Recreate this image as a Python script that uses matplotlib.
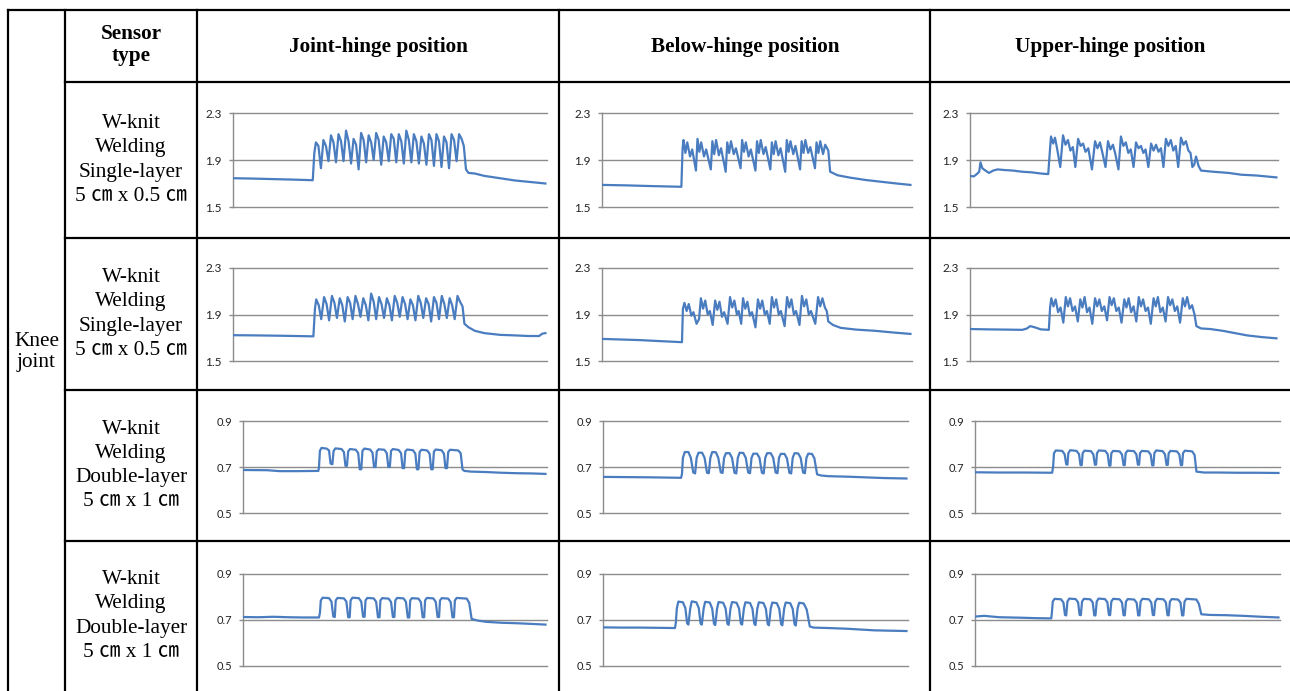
import numpy as np
import matplotlib
matplotlib.use("Agg")
import matplotlib.pyplot as plt

# ---------------- data ----------------
positions = ["Joint-hinge position", "Below-hinge position", "Upper-hinge position"]
header_label = "Sensor\ntype"
joint_label = "Knee\njoint"
sensor_labels = [
    "W-knit\nWelding\nSingle-layer\n5 ㎝ x 0.5 ㎝",
    "W-knit\nWelding\nSingle-layer\n5 ㎝ x 0.5 ㎝",
    "W-knit\nWelding\nDouble-layer\n5 ㎝ x 1 ㎝",
    "W-knit\nWelding\nDouble-layer\n5 ㎝ x 1 ㎝",
]
single_ticks = [1.5, 1.9, 2.3]
double_ticks = [0.5, 0.7, 0.9]

# traces: (time, value), time in % of the record
joint_single_1 = [
    (0.0, 1.745), (6, 1.742), (12, 1.738), (18, 1.734), (25.4, 1.728), (25.9, 1.96),
    (26.4, 2.05), (27.2, 2.02), (28.0, 1.83), (28.8, 2.07), (29.6, 2.02), (30.4, 1.89),
    (31.2, 2.11), (32.0, 2.05), (32.8, 1.88), (33.6, 2.12), (34.4, 2.06), (35.2, 1.89),
    (36.0, 2.15), (36.8, 2.06), (37.6, 1.87), (38.4, 2.08), (39.2, 2.03), (40.0, 1.82),
    (40.8, 2.13), (41.6, 2.07), (42.4, 1.88), (43.2, 2.11), (44.0, 2.05), (44.8, 1.90),
    (45.6, 2.13), (46.4, 2.07), (47.2, 1.86), (48.0, 2.10), (48.8, 2.05), (49.6, 1.89),
    (50.4, 2.12), (51.2, 2.08), (52.0, 1.88), (52.8, 2.12), (53.6, 2.06), (54.4, 1.87),
    (55.2, 2.15), (56.0, 2.07), (56.8, 1.88), (57.6, 2.12), (58.4, 2.06), (59.2, 1.87),
    (60.0, 2.10), (60.8, 2.04), (61.6, 1.86), (62.4, 2.12), (63.2, 2.07), (64.0, 1.85),
    (64.8, 2.12), (65.6, 2.06), (66.4, 1.84), (67.2, 2.10), (68.0, 2.05), (68.8, 1.83),
    (69.6, 2.12), (70.4, 2.07), (71.2, 1.89), (72.0, 2.12), (72.8, 2.08), (73.5, 2.02),
    (74.2, 1.82), (75.0, 1.79), (77, 1.785), (80, 1.765), (85, 1.745), (90, 1.725),
    (95, 1.712), (99.5, 1.70),
]
below_single_1 = [
    (0, 1.688), (8, 1.684), (16, 1.678), (25.6, 1.672), (26.0, 2.00),
    (26.3, 2.07), (26.9, 1.96), (27.5, 2.05), (28.4, 1.93), (29.1, 1.99), (30.3, 1.81),
    (30.8, 2.08), (31.4, 1.97), (32.0, 2.05), (32.9, 1.93), (33.6, 1.99), (35.1, 1.82),
    (35.6, 2.06), (36.2, 1.95), (36.8, 2.07), (37.7, 1.94), (38.4, 2.00), (39.9, 1.80),
    (40.4, 2.05), (41.0, 1.96), (41.6, 2.06), (42.5, 1.95), (43.2, 2.00), (44.7, 1.83),
    (45.2, 2.07), (45.8, 1.97), (46.4, 2.05), (47.3, 1.93), (48.0, 1.99), (49.5, 1.81),
    (50.0, 2.06), (50.6, 1.96), (51.2, 2.07), (52.1, 1.95), (52.8, 2.01), (54.3, 1.82),
    (54.8, 2.05), (55.4, 1.95), (56.0, 2.06), (56.9, 1.94), (57.6, 2.00), (59.1, 1.80),
    (59.6, 2.07), (60.2, 1.97), (60.8, 2.06), (61.7, 1.95), (62.4, 2.02), (63.9, 1.82),
    (64.4, 2.06), (65.0, 1.96), (65.6, 2.07), (66.5, 1.96), (67.2, 2.01), (68.7, 1.83),
    (69.2, 2.05), (69.8, 1.96), (70.4, 2.06), (71.3, 1.95), (72.0, 2.03), (73.0, 1.98),
    (73.6, 1.80), (76, 1.77), (80, 1.75), (85, 1.73), (90, 1.715), (95, 1.70), (99.5, 1.688),
]
upper_single_1 = [
    (0, 1.765), (1.2, 1.76), (2.2, 1.78), (3.0, 1.80), (3.4, 1.88), (4.0, 1.83), (5.0, 1.81),
    (6.2, 1.79), (7.5, 1.81), (9, 1.82), (11, 1.815), (14, 1.81), (17, 1.80), (20, 1.795),
    (23, 1.785), (25.4, 1.78), (26.0, 2.0),
    (26.3, 2.10), (27.0, 2.04), (27.6, 2.09), (28.4, 1.98), (29.3, 1.84),
    (30.2, 2.11), (31.0, 2.03), (31.8, 2.07), (32.6, 1.98), (33.4, 2.01), (34.2, 1.84),
    (35.1, 2.08), (35.9, 2.02), (36.7, 2.04), (37.5, 1.97), (38.4, 2.00), (39.6, 1.82),
    (40.6, 2.06), (41.4, 2.00), (42.2, 2.05), (43.0, 1.96), (44.0, 1.84),
    (44.8, 2.06), (45.6, 1.99), (46.4, 2.03), (47.2, 1.95), (48.2, 1.82),
    (49.0, 2.10), (49.8, 2.02), (50.6, 2.05), (51.4, 1.96), (52.2, 1.99), (53.1, 1.84),
    (53.9, 2.05), (54.7, 2.00), (55.5, 2.02), (56.3, 1.96), (57.0, 1.99), (57.9, 1.84),
    (58.8, 2.04), (59.6, 1.98), (60.4, 2.03), (61.2, 1.97), (62.0, 2.00), (62.8, 1.84),
    (63.6, 2.08), (64.4, 2.02), (65.2, 2.07), (66.0, 1.98), (66.8, 2.02), (67.6, 1.84),
    (68.5, 2.09), (69.3, 2.03), (70.1, 2.06), (70.9, 1.98), (71.6, 1.96), (72.2, 1.84),
    (72.8, 1.86), (73.4, 1.93), (74.2, 1.85), (75.0, 1.81), (79, 1.80), (84, 1.79),
    (88, 1.775), (93, 1.768), (99.5, 1.752),
]
joint_single_2 = [
    (0, 1.722), (8, 1.72), (16, 1.717), (25.6, 1.712), (26.1, 1.95),
    (26.5, 2.03), (27.3, 1.98), (28.1, 1.86), (29.0, 2.05), (29.8, 1.99), (30.6, 1.85),
    (31.5, 2.06), (32.3, 2.00), (33.1, 1.87), (34.0, 2.04), (34.8, 1.98), (35.6, 1.84),
    (36.5, 2.05), (37.3, 2.00), (38.1, 1.86), (39.0, 2.06), (39.8, 1.99), (40.6, 1.88),
    (41.5, 2.04), (42.3, 1.98), (43.1, 1.85), (44.0, 2.08), (44.8, 2.01), (45.6, 1.86),
    (46.5, 2.05), (47.3, 1.99), (48.1, 1.87), (49.0, 2.04), (49.8, 1.98), (50.6, 1.85),
    (51.5, 2.06), (52.3, 2.00), (53.1, 1.88), (54.0, 2.05), (54.8, 1.99), (55.6, 1.86),
    (56.5, 2.03), (57.3, 1.98), (58.1, 1.85), (59.0, 2.06), (59.8, 2.00), (60.6, 1.87),
    (61.5, 2.04), (62.3, 1.99), (63.1, 1.84), (64.0, 2.05), (64.8, 2.00), (65.6, 1.86),
    (66.5, 2.06), (67.3, 1.99), (68.1, 1.87), (69.0, 2.04), (69.8, 1.98), (70.6, 1.86),
    (71.5, 2.06), (72.3, 2.01), (73.1, 1.97), (73.7, 1.82), (75, 1.79), (77, 1.76),
    (80, 1.74), (85, 1.725), (90, 1.72), (94, 1.715), (97.5, 1.715), (98.5, 1.735), (99.5, 1.74),
]
below_single_2 = [
    (0, 1.69), (6, 1.685), (12, 1.68), (18, 1.672), (25.8, 1.662), (26.1, 1.95),
    (26.6, 2.00), (27.3, 1.93), (28.0, 1.99), (28.8, 1.89), (29.5, 1.92), (30.5, 1.82), (31.3, 1.86),
    (31.9, 2.04), (32.6, 1.95), (33.3, 2.02), (34.1, 1.90), (34.8, 1.93), (35.7, 1.81),
    (36.5, 2.02), (37.2, 1.94), (37.9, 2.01), (38.7, 1.88), (39.4, 1.92), (40.5, 1.82),
    (41.3, 2.05), (42.0, 1.96), (42.7, 2.02), (43.5, 1.90), (44.1, 1.93), (44.9, 1.82),
    (45.5, 2.04), (46.2, 1.95), (46.9, 2.01), (47.7, 1.89), (48.4, 1.92), (49.5, 1.79),
    (50.3, 2.03), (51.0, 1.95), (51.7, 2.02), (52.5, 1.90), (53.2, 1.93), (54.1, 1.82),
    (54.8, 2.05), (55.5, 1.96), (56.2, 2.03), (57.0, 1.90), (57.7, 1.93), (58.9, 1.80),
    (59.7, 2.05), (60.4, 1.96), (61.1, 2.03), (61.9, 1.90), (62.6, 1.93), (63.7, 1.81),
    (64.5, 2.06), (65.2, 1.97), (65.9, 2.03), (66.7, 1.90), (67.4, 1.93), (68.8, 1.82),
    (69.7, 2.05), (70.4, 1.97), (71.1, 2.04), (71.9, 1.96), (72.5, 1.93),
    (73.0, 1.84), (74.5, 1.81), (77, 1.785), (82, 1.77), (88, 1.76), (94, 1.745), (99.5, 1.733),
]
upper_single_2 = [
    (0, 1.775), (6, 1.772), (12, 1.77), (17, 1.768), (18.5, 1.78), (19.5, 1.80), (21, 1.79),
    (23, 1.772), (25.6, 1.768), (26.0, 1.96),
    (26.4, 2.04), (27.1, 1.97), (27.8, 2.03), (28.6, 1.92), (29.4, 1.96), (30.3, 1.83),
    (31.1, 2.05), (31.8, 1.97), (32.5, 2.04), (33.3, 1.93), (34.1, 1.97), (35.0, 1.84),
    (35.8, 2.03), (36.5, 1.96), (37.2, 2.05), (38.0, 1.92), (38.8, 1.96), (39.7, 1.82),
    (40.6, 2.04), (41.3, 1.97), (42.0, 2.03), (42.8, 1.93), (43.6, 1.97), (44.5, 1.85),
    (45.3, 2.05), (46.0, 1.98), (46.7, 2.04), (47.5, 1.93), (48.3, 1.96), (49.2, 1.83),
    (50.1, 2.03), (50.8, 1.96), (51.5, 2.04), (52.3, 1.92), (53.1, 1.97), (54.0, 1.84),
    (54.8, 2.05), (55.5, 1.97), (56.2, 2.03), (57.0, 1.93), (57.8, 1.96), (58.7, 1.82),
    (59.6, 2.04), (60.3, 1.97), (61.0, 2.05), (61.8, 1.92), (62.6, 1.96), (63.5, 1.84),
    (64.3, 2.05), (65.0, 1.98), (65.7, 2.03), (66.5, 1.93), (67.3, 1.97), (68.2, 1.83),
    (69.1, 2.04), (69.8, 1.97), (70.5, 2.05), (71.3, 1.95), (72.1, 1.98), (72.9, 1.90),
    (73.5, 1.80), (75, 1.78), (78, 1.775), (82, 1.76), (86, 1.74), (90, 1.72), (95, 1.705), (99.5, 1.695),
]
joint_double_1 = [
    (0, 0.687), (8, 0.686), (12, 0.682), (18, 0.682), (24.8, 0.683), (25.0, 0.70),
    (25.3, 0.77), (25.8, 0.783), (27.5, 0.780), (28.3, 0.772), (28.8, 0.715), (29.4, 0.712),
    (29.8, 0.77), (30.4, 0.781), (32.4, 0.778), (33.2, 0.765), (33.7, 0.705), (34.2, 0.705),
    (34.6, 0.768), (35.2, 0.778), (37.1, 0.775), (37.9, 0.760), (38.4, 0.690), (38.9, 0.690),
    (39.3, 0.77), (39.9, 0.780), (41.8, 0.776), (42.6, 0.762), (43.1, 0.700), (43.6, 0.700),
    (44.0, 0.768), (44.6, 0.777), (46.5, 0.775), (47.3, 0.760), (47.8, 0.700), (48.3, 0.700),
    (48.7, 0.77), (49.3, 0.778), (51.2, 0.774), (52.0, 0.760), (52.5, 0.695), (53.0, 0.695),
    (53.4, 0.768), (54.0, 0.776), (55.9, 0.773), (56.7, 0.758), (57.2, 0.690), (57.7, 0.690),
    (58.1, 0.765), (58.7, 0.775), (60.6, 0.772), (61.4, 0.757), (61.9, 0.690), (62.4, 0.690),
    (62.8, 0.767), (63.4, 0.776), (65.3, 0.773), (66.1, 0.758), (66.6, 0.695), (67.1, 0.695),
    (67.5, 0.765), (68.1, 0.775), (70.8, 0.772), (71.6, 0.760), (72.2, 0.690), (72.8, 0.683),
    (75, 0.680), (80, 0.678), (85, 0.675), (90, 0.673), (95, 0.672), (99.5, 0.670),
]
below_double_1 = [
    (0, 0.657), (8, 0.656), (16, 0.655), (25.6, 0.653), (25.9, 0.67),
    (26.2, 0.74), (26.8, 0.765), (28.0, 0.765), (28.8, 0.74), (29.6, 0.676), (30.2, 0.672),
    (30.7, 0.74), (31.3, 0.762), (32.5, 0.762), (33.3, 0.74), (34.1, 0.675), (34.7, 0.673),
    (35.2, 0.74), (35.8, 0.765), (37.0, 0.764), (37.8, 0.74), (38.6, 0.677), (39.2, 0.674),
    (39.7, 0.74), (40.3, 0.760), (41.5, 0.760), (42.3, 0.74), (43.1, 0.675), (43.7, 0.672),
    (44.2, 0.74), (44.8, 0.762), (46.0, 0.761), (46.8, 0.74), (47.6, 0.676), (48.2, 0.673),
    (48.7, 0.74), (49.3, 0.758), (50.5, 0.758), (51.3, 0.74), (52.1, 0.675), (52.7, 0.672),
    (53.2, 0.74), (53.8, 0.760), (55.0, 0.760), (55.8, 0.74), (56.6, 0.676), (57.2, 0.673),
    (57.7, 0.74), (58.3, 0.757), (59.5, 0.757), (60.3, 0.738), (61.1, 0.675), (61.7, 0.672),
    (62.2, 0.74), (62.8, 0.760), (64.0, 0.759), (64.8, 0.74), (65.6, 0.676), (66.2, 0.673),
    (66.7, 0.74), (67.3, 0.758), (68.5, 0.757), (69.3, 0.738), (70.2, 0.668),
    (71.5, 0.663), (74, 0.660), (80, 0.658), (86, 0.655), (92, 0.652), (99.5, 0.650),
]
upper_double_1 = [
    (0, 0.677), (8, 0.676), (16, 0.676), (25.3, 0.675), (25.6, 0.70),
    (25.9, 0.76), (26.5, 0.772), (28.6, 0.770), (29.4, 0.755), (29.9, 0.712), (30.3, 0.710),
    (30.6, 0.76), (31.2, 0.773), (33.3, 0.770), (34.1, 0.756), (34.6, 0.708), (35.0, 0.708),
    (35.3, 0.76), (35.9, 0.771), (38.0, 0.769), (38.8, 0.755), (39.3, 0.710), (39.7, 0.710),
    (40.0, 0.76), (40.6, 0.772), (42.7, 0.770), (43.5, 0.756), (44.0, 0.706), (44.4, 0.706),
    (44.7, 0.76), (45.3, 0.770), (47.4, 0.768), (48.2, 0.754), (48.7, 0.708), (49.1, 0.708),
    (49.4, 0.76), (50.0, 0.771), (52.1, 0.769), (52.9, 0.755), (53.4, 0.710), (53.8, 0.710),
    (54.1, 0.76), (54.7, 0.770), (56.8, 0.768), (57.6, 0.754), (58.1, 0.707), (58.5, 0.707),
    (58.8, 0.76), (59.4, 0.772), (61.5, 0.769), (62.3, 0.755), (62.8, 0.709), (63.2, 0.709),
    (63.5, 0.76), (64.1, 0.770), (66.2, 0.768), (67.0, 0.754), (67.5, 0.708), (67.9, 0.708),
    (68.2, 0.76), (68.8, 0.771), (71.2, 0.768), (72.0, 0.752), (72.6, 0.680),
    (75, 0.676), (80, 0.676), (86, 0.675), (92, 0.675), (99.5, 0.674),
]
joint_double_2 = [
    (0, 0.713), (5, 0.712), (10, 0.714), (15, 0.712), (20, 0.711), (25.0, 0.711), (25.3, 0.73),
    (25.6, 0.785), (26.2, 0.797), (28.3, 0.795), (29.1, 0.780), (29.7, 0.715), (30.2, 0.713),
    (30.5, 0.785), (31.1, 0.796), (33.2, 0.794), (34.0, 0.780), (34.6, 0.712), (35.1, 0.712),
    (35.4, 0.785), (36.0, 0.797), (38.1, 0.795), (38.9, 0.780), (39.5, 0.714), (40.0, 0.714),
    (40.3, 0.785), (40.9, 0.796), (43.0, 0.794), (43.8, 0.779), (44.4, 0.712), (44.9, 0.712),
    (45.2, 0.785), (45.8, 0.795), (47.9, 0.793), (48.7, 0.778), (49.3, 0.713), (49.8, 0.713),
    (50.1, 0.785), (50.7, 0.796), (52.8, 0.794), (53.6, 0.779), (54.2, 0.711), (54.7, 0.711),
    (55.0, 0.785), (55.6, 0.795), (57.7, 0.793), (58.5, 0.778), (59.1, 0.712), (59.6, 0.712),
    (59.9, 0.785), (60.5, 0.796), (62.6, 0.794), (63.4, 0.779), (64.0, 0.713), (64.5, 0.713),
    (64.8, 0.785), (65.4, 0.795), (67.5, 0.793), (68.3, 0.778), (68.9, 0.712), (69.4, 0.712),
    (69.7, 0.785), (70.3, 0.796), (73.6, 0.793), (74.4, 0.775), (75.2, 0.705),
    (77, 0.698), (80, 0.692), (85, 0.688), (90, 0.686), (95, 0.683), (99.5, 0.680),
]
below_double_2 = [
    (0, 0.668), (6, 0.667), (12, 0.667), (18, 0.666), (23.6, 0.665), (23.9, 0.69),
    (24.2, 0.75), (24.7, 0.780), (26.2, 0.777), (27.0, 0.752), (27.6, 0.685), (28.0, 0.680),
    (28.6, 0.75), (29.1, 0.781), (30.6, 0.777), (31.4, 0.752), (32.0, 0.684), (32.4, 0.680),
    (33.0, 0.75), (33.5, 0.779), (35.0, 0.776), (35.8, 0.750), (36.4, 0.683), (36.8, 0.678),
    (37.4, 0.75), (37.9, 0.778), (39.4, 0.775), (40.2, 0.750), (40.8, 0.683), (41.2, 0.679),
    (41.8, 0.75), (42.3, 0.778), (43.8, 0.775), (44.6, 0.750), (45.2, 0.684), (45.6, 0.680),
    (46.2, 0.75), (46.7, 0.777), (48.2, 0.774), (49.0, 0.749), (49.6, 0.683), (50.0, 0.678),
    (50.6, 0.75), (51.1, 0.777), (52.6, 0.774), (53.4, 0.749), (54.0, 0.682), (54.4, 0.677),
    (55.0, 0.75), (55.5, 0.776), (57.0, 0.773), (57.8, 0.748), (58.4, 0.682), (58.8, 0.677),
    (59.4, 0.75), (59.9, 0.776), (61.4, 0.773), (62.2, 0.748), (62.8, 0.682), (63.2, 0.676),
    (63.8, 0.75), (64.3, 0.775), (65.8, 0.772), (66.8, 0.745), (67.8, 0.672),
    (69, 0.667), (74, 0.665), (80, 0.662), (89, 0.655), (99.5, 0.652),
]
upper_double_2 = [
    (0, 0.715), (3, 0.718), (8, 0.712), (15, 0.710), (20, 0.708), (25.0, 0.707), (25.2, 0.73),
    (25.5, 0.78), (26.1, 0.792), (28.2, 0.790), (29.0, 0.776), (29.5, 0.722), (29.9, 0.720),
    (30.3, 0.78), (30.9, 0.793), (33.0, 0.791), (33.8, 0.777), (34.3, 0.722), (34.7, 0.721),
    (35.1, 0.78), (35.7, 0.792), (37.8, 0.790), (38.6, 0.776), (39.1, 0.720), (39.5, 0.720),
    (39.9, 0.78), (40.5, 0.793), (42.6, 0.791), (43.4, 0.777), (43.9, 0.722), (44.3, 0.721),
    (44.7, 0.78), (45.3, 0.792), (47.4, 0.790), (48.2, 0.776), (48.7, 0.721), (49.1, 0.720),
    (49.5, 0.78), (50.1, 0.791), (52.2, 0.789), (53.0, 0.775), (53.5, 0.720), (53.9, 0.720),
    (54.3, 0.78), (54.9, 0.792), (57.0, 0.790), (57.8, 0.776), (58.3, 0.722), (58.7, 0.721),
    (59.1, 0.78), (59.7, 0.792), (61.8, 0.790), (62.6, 0.776), (63.1, 0.721), (63.5, 0.720),
    (63.9, 0.78), (64.5, 0.791), (66.6, 0.789), (67.4, 0.775), (67.9, 0.720), (68.3, 0.720),
    (68.7, 0.78), (69.3, 0.792), (72.6, 0.789), (73.4, 0.770), (74.2, 0.725),
    (77, 0.722), (82, 0.721), (88, 0.718), (94, 0.714), (99.5, 0.711),
]

traces = [
    [joint_single_1, below_single_1, upper_single_1],
    [joint_single_2, below_single_2, upper_single_2],
    [joint_double_1, below_double_1, upper_double_1],
    [joint_double_2, below_double_2, upper_double_2],
]
row_ticks = [single_ticks, single_ticks, double_ticks, double_ticks]

# ---------------- layout (pixels) ----------------
W, H = 1290, 691
col_lines = [8, 65, 197, 559, 930]
row_lines = [10, 82, 238, 390, 541]
panel_cols = [
    [(233, 547), (602, 912), (970, 1278)],
    [(233, 547), (602, 912), (970, 1278)],
    [(243, 547), (603, 908), (975, 1280)],
    [(243, 547), (603, 908), (975, 1280)],
]
panel_rows = [(113, 207), (268, 361), (421, 513), (574, 666)]

serif = ["Liberation Serif", "Noto Sans CJK JP"]
line_blue = "#4a7cc0"
grid_grey = "#8c8c8c"
fs = 15.3

fig = plt.figure(figsize=(W / 100, H / 100), dpi=100)
bg = fig.add_axes([0, 0, 1, 1])
bg.set_xlim(0, W)
bg.set_ylim(H, 0)
bg.axis("off")

# table rules
for x in col_lines:
    bg.plot([x, x], [row_lines[0], H + 5], color="k", lw=1.6, solid_capstyle="projecting")
bg.plot([col_lines[0], W + 5], [row_lines[0], row_lines[0]], color="k", lw=1.6)
for y in row_lines[1:]:
    bg.plot([col_lines[1], W + 5], [y, y], color="k", lw=1.6)

# texts
bg.text(36.5, 352, joint_label, ha="center", va="center", family=serif,
        fontsize=fs, linespacing=1.1)
bg.text(131, 45, header_label, ha="center", va="center", family=serif,
        fontsize=fs, fontweight="bold", linespacing=1.1)
col_centres = [378, 745, 1110]
for cx, name in zip(col_centres, positions):
    bg.text(cx, 47, name, ha="center", va="center", family=serif,
            fontsize=fs, fontweight="bold")
for i, lab in enumerate(sensor_labels):
    cy = (row_lines[i + 1] + (row_lines[i + 2] if i + 2 < len(row_lines) else H)) / 2
    bg.text(131, cy, lab, ha="center", va="center", family=serif,
            fontsize=fs, linespacing=1.36)

# panels
for r in range(4):
    y0, y1 = panel_rows[r]
    ticks = row_ticks[r]
    for c in range(3):
        x0, x1 = panel_cols[r][c]
        ax = fig.add_axes([x0 / W, 1 - y1 / H, (x1 - x0) / W, (y1 - y0) / H])
        pts = np.array(traces[r][c])
        ax.plot(pts[:, 0], pts[:, 1], color=line_blue, lw=1.6, zorder=3)
        ax.set_xlim(0, 100)
        ax.set_ylim(ticks[0], ticks[-1])
        for v in ticks:
            ax.axhline(v, color=grid_grey, lw=1.0, zorder=1, clip_on=False)
        ax.set_yticks(ticks)
        ax.set_yticklabels(["%.1f" % v for v in ticks], family="Lato",
                           fontsize=8.5 if r < 2 else 8, color="#222222")
        ax.set_xticks([])
        for s in ["top", "right", "bottom"]:
            ax.spines[s].set_visible(False)
        ax.spines["left"].set_color(grid_grey)
        ax.spines["left"].set_linewidth(1.0)
        ax.tick_params(axis="y", direction="out", length=3, width=1.0,
                       color=grid_grey, pad=5)
        ax.patch.set_alpha(0)

fig.savefig("out.png", dpi=100)
